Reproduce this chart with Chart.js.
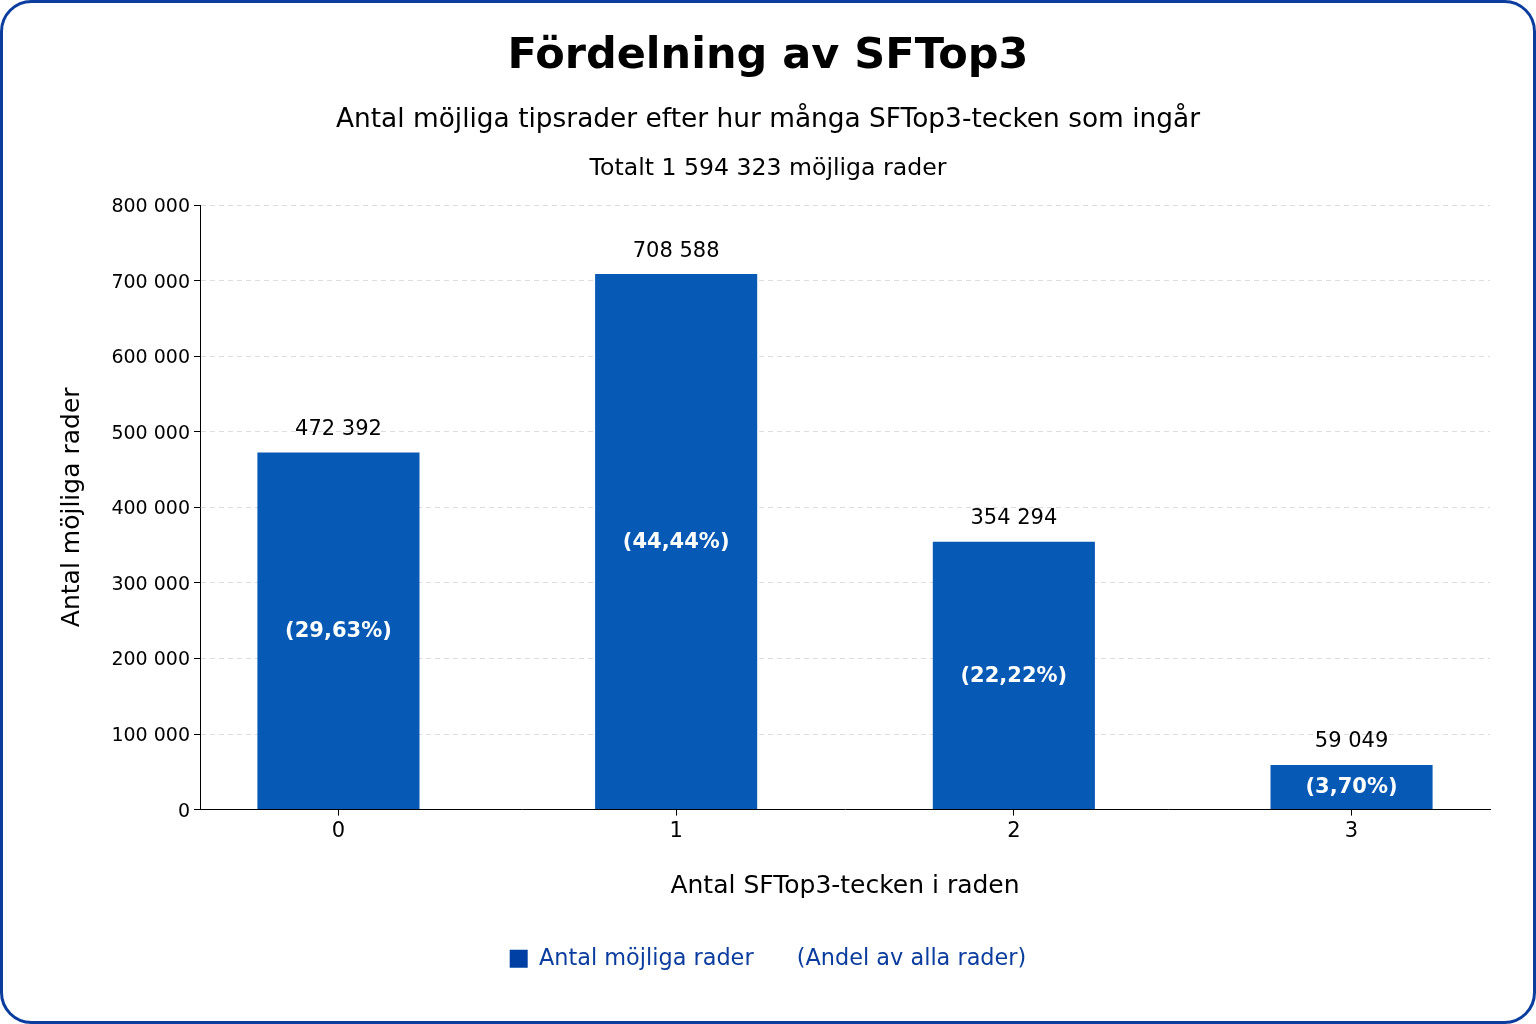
<!DOCTYPE html>
<html lang="sv">
<head>
  <meta charset="UTF-8">
  <title>Fördelning av SFTop3</title>
  <script src="https://cdn.jsdelivr.net/npm/chart.js"></script>
  <style>
    body {
      margin: 0;
      background: #ffffff;
    }
    canvas {
      display: block;
    }
  </style>
</head>
<body>
  <canvas id="graf" width="1536" height="1024"></canvas>

  <script>
    const antalTecken = [0, 1, 2, 3];
    const antalRader = [472392, 708588, 354294, 59049];
    const yTicks = [0, 100000, 200000, 300000, 400000, 500000, 600000, 700000, 800000];
    const totalt = 1594323;

    const FONT = "'DejaVu Sans', sans-serif";
    const BLA = '#0659b5';
    const MORKBLA = '#0b3d9e';

    function tusental(n) {
      return String(Math.round(n)).replace(/\B(?=(\d{3})+(?!\d))/g, ' ');
    }

    const ramOchText = {
      id: 'ramOchText',
      afterDraw(chart) {
        const ctx = chart.ctx;
        ctx.save();
        // ram runt figuren
        ctx.strokeStyle = MORKBLA;
        ctx.lineWidth = 3;
        ctx.beginPath();
        ctx.roundRect(1.5, 1.5, chart.width - 3, chart.height - 3, 30);
        ctx.stroke();

        ctx.fillStyle = '#000';
        ctx.textAlign = 'center';
        ctx.textBaseline = 'middle';
        ctx.font = 'bold 43px ' + FONT;
        ctx.fillText('Fördelning av SFTop3', chart.width / 2, 57);
        ctx.font = '26.4px ' + FONT;
        ctx.fillText('Antal möjliga tipsrader efter hur många SFTop3-tecken som ingår', chart.width / 2, 120);
        ctx.font = '23.6px ' + FONT;
        ctx.fillText('Totalt ' + tusental(totalt) + ' möjliga rader', chart.width / 2, 169);

        // etiketter på staplarna
        const meta = chart.getDatasetMeta(0);
        meta.data.forEach((bar, i) => {
          ctx.fillStyle = '#000';
          ctx.font = '21px ' + FONT;
          ctx.fillText(tusental(antalRader[i]), bar.x, bar.y - 23);
          ctx.fillStyle = '#fff';
          ctx.font = 'bold 21px ' + FONT;
          const andel = (antalRader[i] / totalt * 100).toFixed(2).replace('.', ',');
          ctx.fillText('(' + andel + '%)', bar.x, (bar.y + bar.base) / 2 + 1);
        });
        ctx.restore();
      }
    };

    new Chart(document.getElementById('graf'), {
      type: 'bar',
      data: {
        datasets: [{
          label: 'Antal möjliga rader',
          data: antalTecken.map((t, i) => ({ x: t, y: antalRader[i] })),
          backgroundColor: BLA,
          barPercentage: 0.48,
          categoryPercentage: 1
        }]
      },
      options: {
        responsive: false,
        animation: false,
        layout: { padding: { top: 205, right: 0, bottom: 44, left: 0 } },
        scales: {
          x: {
            type: 'linear',
            min: -0.41,
            max: 3.41,
            offset: false,
            afterFit(scale) { scale.height = 124; },
            ticks: {
              stepSize: 1,
              includeBounds: false,
              padding: 3,
              color: '#000',
              font: { family: FONT, size: 21 }
            },
            grid: { offset: false, drawOnChartArea: false, tickLength: 6, tickColor: '#000' },
            border: { color: '#000', width: 1 },
            title: {
              display: true,
              text: 'Antal SFTop3-tecken i raden',
              color: '#000',
              font: { family: FONT, size: 25 },
              padding: { top: 0, bottom: 32 }
            }
          },
          y: {
            min: 0,
            max: 800000,
            afterFit(scale) { scale.width = 200; },
            afterBuildTicks(scale) { scale.ticks = yTicks.map(v => ({ value: v })); },
            ticks: {
              padding: 4,
              labelOffset: 2,
              color: '#000',
              font: { family: FONT, size: 19 },
              callback: v => tusental(v)
            },
            grid: {
              color: '#dddddd',
              tickLength: 6,
              tickColor: '#000',
              tickBorderDash: []
            },
            border: { color: '#000', width: 1, dash: [5, 4] },
            title: {
              display: true,
              text: 'Antal möjliga rader',
              color: '#000',
              font: { family: FONT, size: 25 },
              padding: { top: 57, bottom: 0 }
            }
          },
          hoger: {
            position: 'right',
            afterFit(scale) { scale.width = 46; },
            ticks: { display: false },
            grid: { display: false },
            border: { display: false }
          }
        },
        plugins: {
          tooltip: { enabled: false },
          legend: {
            position: 'bottom',
            labels: {
              color: MORKBLA,
              font: { family: FONT, size: 22.4 },
              boxWidth: 18,
              boxHeight: 18,
              padding: 14,
              generateLabels: () => [
                { text: 'Antal möjliga rader', fillStyle: '#003fa3', strokeStyle: '#003fa3', lineWidth: 0, fontColor: MORKBLA },
                { text: '(Andel av alla rader)', fillStyle: 'rgba(0,0,0,0)', strokeStyle: 'rgba(0,0,0,0)', lineWidth: 0, fontColor: MORKBLA }
              ]
            }
          }
        }
      },
      plugins: [ramOchText]
    });
  </script>
</body>
</html>
